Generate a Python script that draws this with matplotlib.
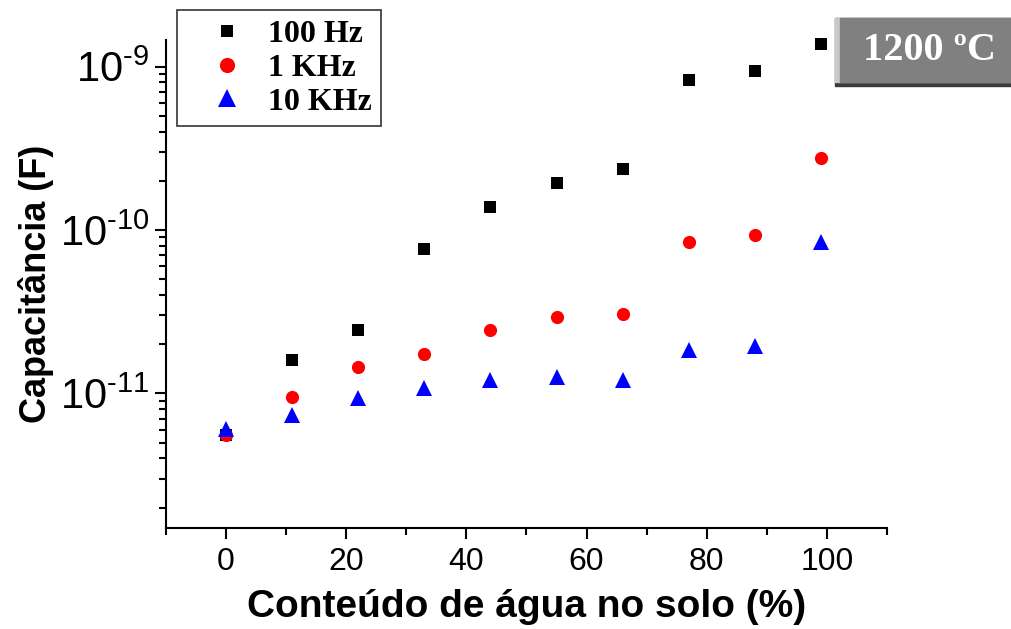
import matplotlib

matplotlib.use("Agg")
import matplotlib.pyplot as plt
from matplotlib.patches import Rectangle
from matplotlib.ticker import FixedLocator, FuncFormatter, LogLocator, MultipleLocator, NullFormatter
import numpy as np

# water content (%) and capacitance (F) for three frequencies, sample fired at 1200 C
water = [0, 11, 22, 33, 44, 55, 66, 77, 88, 99]
cap_100hz = [5.6e-12, 1.61e-11, 2.45e-11, 7.7e-11, 1.38e-10, 1.93e-10, 2.36e-10, 8.3e-10, 9.4e-10, 1.38e-9]
cap_1khz = [5.6e-12, 9.5e-12, 1.46e-11, 1.75e-11, 2.45e-11, 2.95e-11, 3.08e-11, 8.5e-11, 9.3e-11, 2.75e-10]
cap_10khz = [6.05e-12, 7.4e-12, 9.4e-12, 1.08e-11, 1.21e-11, 1.26e-11, 1.2e-11, 1.85e-11, 1.96e-11, 8.4e-11]

series = [
    ("100 Hz", cap_100hz, "s", "black", 8),
    ("1 KHz", cap_1khz, "o", "#ff0000", 9.5),
    ("10 KHz", cap_10khz, "^", "#0000ff", 11),
]
y_major = [1e-11, 1e-10, 1e-9]

plt.rcParams.update({
    "font.family": ["Liberation Sans", "DejaVu Sans"],
    "mathtext.fontset": "custom",
    "mathtext.rm": "Liberation Sans",
    "mathtext.it": "Liberation Sans",
    "mathtext.bf": "Liberation Sans:bold",
})

fig = plt.figure(figsize=(10.12, 6.29), dpi=100)
ax = fig.add_axes([0.164, 0.1606, 0.7125, 0.7754])

handles = []
for label, vals, marker, color, ms in series:
    (h,) = ax.plot(water, vals, linestyle="none", marker=marker, color=color,
                   markersize=ms, markeredgewidth=0, label=label, clip_on=False)
    handles.append(h)

ax.set_yscale("log")
ax.set_xlim(-10, 110)
ax.set_ylim(1.5e-12, 1.45e-9)

ax.xaxis.set_major_locator(FixedLocator([0, 20, 40, 60, 80, 100]))
ax.xaxis.set_minor_locator(MultipleLocator(10))
ax.yaxis.set_major_locator(FixedLocator(y_major))
ax.yaxis.set_minor_locator(LogLocator(base=10, subs=range(2, 10)))
ax.yaxis.set_minor_formatter(NullFormatter())
ax.yaxis.set_major_formatter(FuncFormatter(
    lambda v, pos: r"$10^{\text{-%d}}$" % round(-np.log10(v))))

for side in ("top", "right"):
    ax.spines[side].set_visible(False)
for side in ("left", "bottom"):
    ax.spines[side].set_linewidth(1.5)

ax.tick_params(which="major", direction="out", length=8, width=1.5)
ax.tick_params(which="minor", direction="out", length=5, width=1.5)
ax.tick_params(axis="y", labelsize=30, pad=4)
ax.tick_params(axis="x", labelsize=23, pad=6)

ax.set_xlabel("Conteúdo de água no solo (%)", fontsize=28, fontweight="bold", labelpad=8)
ax.set_ylabel("Capacitância (F)", fontsize=26, fontweight="bold", labelpad=4)

leg = fig.legend(handles=handles, loc="upper left",
                 bbox_to_anchor=(177 / 1012, 1 - 10 / 629),
                 prop={"family": "Liberation Serif", "weight": "bold", "size": 23},
                 frameon=True, fancybox=False, edgecolor="black",
                 borderpad=0.3, labelspacing=0.14, handletextpad=0.05,
                 handlelength=2.5, borderaxespad=0, markerscale=1.15)
leg.get_frame().set_linewidth(1.2)

# bevelled gray temperature tag, top right
W, H = 1012, 629
fig.patches.append(Rectangle((835 / W, 1 - 86 / H), 180 / W, 68 / H,
                             transform=fig.transFigure, color="#3a3a3a", zorder=1))
fig.patches.append(Rectangle((835 / W, 1 - 82 / H), 180 / W, 64 / H,
                             transform=fig.transFigure, color="#c8c8c8", zorder=2))
fig.patches.append(Rectangle((840 / W, 1 - 82 / H), 175 / W, 64 / H,
                             transform=fig.transFigure, color="#808080", zorder=3))
fig.text(930 / W, 1 - 51 / H, "1200 ºC", color="white", ha="center", va="center",
         family="Liberation Serif", fontweight="bold", fontsize=29, zorder=4)

fig.savefig("out.png", dpi=100)
